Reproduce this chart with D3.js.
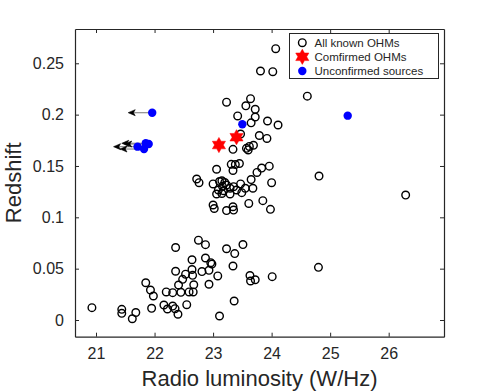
<!DOCTYPE html>
<html>
<head>
<meta charset="utf-8">
<script src="https://cdn.jsdelivr.net/npm/d3@7"></script>
<style>
  body { margin: 0; background: #fff; }
  svg { display: block; font-family: "Liberation Sans", Arial, Helvetica, sans-serif; }
</style>
</head>
<body>
<div id="chart"></div>
<script>
// All known OHMs: radio luminosity (log W/Hz) and redshift
const knownLum = [
  20.93, 21.44, 21.44, 21.68, 21.62, 21.85, 21.93, 21.98, 21.95, 22.16,
  22.22, 22.31, 22.35, 22.40, 22.20, 22.31, 22.45, 22.41, 22.48, 22.53,
  22.36, 22.64, 22.64, 22.36, 22.75, 22.55, 22.59, 22.66, 22.67, 22.65,
  22.87, 23.23, 23.37, 23.51, 22.87, 22.96, 22.98, 23.34, 22.81, 22.93,
  23.08, 23.63, 23.64, 23.72, 24.01, 22.93, 23.36, 23.11, 24.80,
  23.00, 23.02, 23.23, 23.34, 23.35, 23.61, 23.85, 23.98,
  22.72, 22.76, 23.00, 23.06, 23.31, 23.38, 23.45, 23.34, 23.75, 23.83,
  23.96, 23.11, 23.15, 23.20, 23.23, 23.16, 23.09, 23.06, 23.15, 23.18,
  23.29, 23.35, 23.29, 23.40, 23.47, 23.49, 23.55, 23.65, 23.68, 24.00,
  23.34, 24.81, 26.29,
  24.07, 23.81, 24.02, 24.61, 23.23, 23.64, 23.56, 23.72, 23.42, 23.72,
  23.65, 23.93, 24.11, 23.79, 23.92, 23.57, 23.62, 23.69, 23.60, 23.47
];
const knownZ = [
  0.0120, 0.0104, 0.0065, 0.0073, 0.0012, 0.0363, 0.0292, 0.0234, 0.0114, 0.0146,
  0.0107, 0.0136, 0.0110, 0.0056, 0.0273, 0.0266, 0.0270, 0.0341, 0.0396, 0.0446,
  0.0475, 0.0492, 0.0587, 0.0706, 0.0777, 0.0149, 0.0273, 0.0273, 0.0343, 0.0435,
  0.0734, 0.0694, 0.0647, 0.0735, 0.0604, 0.0558, 0.0545, 0.0526, 0.0472, 0.0484,
  0.0429, 0.0433, 0.0380, 0.0392, 0.0422, 0.0348, 0.0185, 0.0039, 0.0513,
  0.1120, 0.1086, 0.1066, 0.1103, 0.1071, 0.1135, 0.1162, 0.1078,
  0.1373, 0.1337, 0.1325, 0.1468, 0.1516, 0.1514, 0.1524, 0.1456, 0.1437, 0.1480,
  0.1498, 0.1349, 0.1356, 0.1339, 0.1315, 0.1302, 0.1266, 0.1227, 0.1232, 0.1259,
  0.1283, 0.1298, 0.1227, 0.1266, 0.1325, 0.1240, 0.1283, 0.1368, 0.1283, 0.1337,
  0.1662, 0.1402, 0.1217,
  0.2642, 0.2425, 0.2418, 0.2180, 0.2121, 0.2155, 0.2086, 0.2052, 0.1987, 0.1977,
  0.1920, 0.1938, 0.1899, 0.1797, 0.1768, 0.1672, 0.1690, 0.1702, 0.1656, 0.1811
];

// Confirmed OHMs
const confLum = [23.10, 23.40];
const confZ = [0.1704, 0.1780];

// Unconfirmed sources (upper limits drawn with a left arrow)
const uncLum = [21.96, 21.85, 21.90, 21.71, 21.82, 23.50, 25.30];
const uncZ = [0.2019, 0.1721, 0.1714, 0.1688, 0.1665, 0.1907, 0.1990];
const uncUpperLimit = [true, true, true, true, true, false, false];
const ARROW_DEX = 0.41;

const xTicks = [21, 22, 23, 24, 25, 26];
const yTicks = [0, 0.05, 0.1, 0.15, 0.2, 0.25];
const legendLabels = ["All known OHMs", "Comfirmed OHMs", "Unconfirmed sources"];

const WIDTH = 491, HEIGHT = 392;
const margin = { left: 75, right: 47, top: 29, bottom: 55.3 };
const AXIS_COLOR = "#262626";
const TICK_LEN = 4;

const svg = d3.select("#chart").append("svg")
  .attr("width", WIDTH)
  .attr("height", HEIGHT);

const x = d3.scaleLinear()
  .domain([20.641, 26.945])
  .range([margin.left, WIDTH - margin.right]);
const y = d3.scaleLinear()
  .domain([-0.01626, 0.2834])
  .range([HEIGHT - margin.bottom, margin.top]);

const x0 = x.range()[0], x1 = x.range()[1];
const y0 = y.range()[0], y1 = y.range()[1];

// axes, ticks pointing inward on all four sides
const fmtY = (d) => d === 0 ? "0" : String(d);
const bottomAxis = svg.append("g")
  .attr("transform", `translate(0,${y0})`)
  .call(d3.axisBottom(x).tickValues(xTicks).tickSizeInner(-TICK_LEN).tickSizeOuter(0).tickPadding(11).tickFormat(d3.format("d")));
const topAxis = svg.append("g")
  .attr("transform", `translate(0,${y1})`)
  .call(d3.axisTop(x).tickValues(xTicks).tickSizeInner(-TICK_LEN).tickSizeOuter(0).tickFormat(""));
const leftAxis = svg.append("g")
  .attr("transform", `translate(${x0},0)`)
  .call(d3.axisLeft(y).tickValues(yTicks).tickSizeInner(-TICK_LEN).tickSizeOuter(0).tickPadding(11).tickFormat(fmtY));
const rightAxis = svg.append("g")
  .attr("transform", `translate(${x1},0)`)
  .call(d3.axisRight(y).tickValues(yTicks).tickSizeInner(-TICK_LEN).tickSizeOuter(0).tickFormat(""));

[bottomAxis, topAxis, leftAxis, rightAxis].forEach((g) => {
  g.select(".domain").attr("stroke", AXIS_COLOR).attr("stroke-width", 1.2);
  g.selectAll(".tick line").attr("stroke", AXIS_COLOR).attr("stroke-width", 1);
  g.selectAll(".tick text")
    .attr("fill", AXIS_COLOR)
    .attr("font-size", "16px")
    .attr("font-family", "'Liberation Sans', Arial, Helvetica, sans-serif");
});

// axis titles
svg.append("text")
  .attr("x", (x0 + x1) / 2)
  .attr("y", 386)
  .attr("text-anchor", "middle")
  .attr("fill", AXIS_COLOR)
  .attr("font-size", "22px")
  .text("Radio luminosity (W/Hz)");

svg.append("text")
  .attr("transform", `translate(21,${(y0 + y1) / 2}) rotate(-90)`)
  .attr("text-anchor", "middle")
  .attr("fill", AXIS_COLOR)
  .attr("font-size", "22px")
  .text("Redshift");

// marker shapes
const hexagram = (r) => {
  const inner = r / Math.sqrt(3);
  const pts = [];
  for (let i = 0; i < 12; i++) {
    const a = -Math.PI / 2 + i * Math.PI / 6;
    const rr = i % 2 === 0 ? r : inner;
    pts.push([rr * Math.cos(a), rr * Math.sin(a)]);
  }
  return "M" + pts.map((p) => p.join(",")).join("L") + "Z";
};
const STAR_R = 7.6;

const plot = svg.append("g");

// all known OHMs: open circles
plot.append("g")
  .selectAll("circle")
  .data(d3.range(knownLum.length))
  .join("circle")
  .attr("cx", (i) => x(knownLum[i]))
  .attr("cy", (i) => y(knownZ[i]))
  .attr("r", 3.8)
  .attr("fill", "none")
  .attr("stroke", "#000")
  .attr("stroke-width", 1.4);

// confirmed OHMs: red hexagrams
plot.append("g")
  .selectAll("path")
  .data(d3.range(confLum.length))
  .join("path")
  .attr("transform", (i) => `translate(${x(confLum[i])},${y(confZ[i])})`)
  .attr("d", hexagram(STAR_R))
  .attr("fill", "#ff0000")
  .attr("stroke", "#ff0000")
  .attr("stroke-width", 0.5);

// upper-limit arrows for unconfirmed sources
const limits = d3.range(uncLum.length).filter((i) => uncUpperLimit[i]);
plot.append("g")
  .selectAll("line")
  .data(limits)
  .join("line")
  .attr("x1", (i) => x(uncLum[i]))
  .attr("x2", (i) => x(uncLum[i] - ARROW_DEX) + 3)
  .attr("y1", (i) => y(uncZ[i]))
  .attr("y2", (i) => y(uncZ[i]))
  .attr("stroke", "#8c8c8c")
  .attr("stroke-width", 1.2);
plot.append("g")
  .selectAll("path")
  .data(limits)
  .join("path")
  .attr("transform", (i) => `translate(${x(uncLum[i] - ARROW_DEX)},${y(uncZ[i])})`)
  .attr("d", "M0,0L7,-3L5.2,0L7,3Z")
  .attr("fill", "#000")
  .attr("stroke", "#000")
  .attr("stroke-width", 0.6);

// unconfirmed sources: blue dots
plot.append("g")
  .selectAll("circle")
  .data(d3.range(uncLum.length))
  .join("circle")
  .attr("cx", (i) => x(uncLum[i]))
  .attr("cy", (i) => y(uncZ[i]))
  .attr("r", 4.2)
  .attr("fill", "#0000ff");

// legend
const legend = svg.append("g");
legend.append("rect")
  .attr("x", 289.5)
  .attr("y", 33.5)
  .attr("width", 149)
  .attr("height", 45)
  .attr("fill", "#fff")
  .attr("stroke", AXIS_COLOR)
  .attr("stroke-width", 1);

const rowY = [42.7, 56.8, 71];
const mx = 302.3, tx = 314.5;
legend.append("circle")
  .attr("cx", mx).attr("cy", rowY[0]).attr("r", 3.8)
  .attr("fill", "none").attr("stroke", "#000").attr("stroke-width", 1.4);
legend.append("path")
  .attr("transform", `translate(${mx},${rowY[1]})`)
  .attr("d", hexagram(STAR_R))
  .attr("fill", "#ff0000").attr("stroke", "#ff0000").attr("stroke-width", 0.5);
legend.append("circle")
  .attr("cx", mx).attr("cy", rowY[2]).attr("r", 4.2)
  .attr("fill", "#0000ff");

legend.selectAll("text")
  .data(legendLabels)
  .join("text")
  .attr("x", tx)
  .attr("y", (d, i) => rowY[i])
  .attr("dy", "0.36em")
  .attr("fill", AXIS_COLOR)
  .attr("font-size", "11.5px")
  .text((d) => d);
</script>
</body>
</html>
